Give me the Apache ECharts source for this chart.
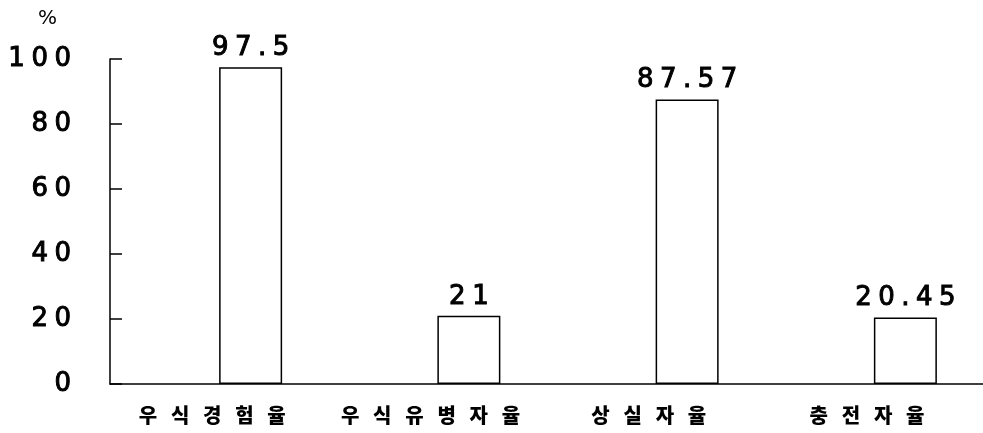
<!DOCTYPE html>
<html>
<head>
<meta charset="utf-8">
<script src="https://cdn.jsdelivr.net/npm/echarts@6/dist/echarts.min.js"></script>
<style>
html,body{margin:0;padding:0;background:#fff;}
#chart{width:983px;height:433px;}
</style>
</head>
<body>
<div id="chart"></div>
<script>
const categories = ['우식경험율', '우식유병자율', '상실자율', '충전자율'];
const values = [97.5, 21, 87.57, 20.45];
const yMin = 0, yMax = 100, yStep = 20;
const unitLabel = '%';

const DIGIT_GAP = '\u2005';
const HANGUL_GAP = '   ';
const spaced = (s, g) => String(s).split('').join(g);

const digitStyle = {
  color: '#000',
  fontFamily: 'DejaVu Sans',
  fontWeight: 'normal',
  fontSize: 26,
  textBorderColor: '#000',
  textBorderWidth: 1
};

const chart = echarts.init(document.getElementById('chart'), null, {renderer: 'canvas'});
chart.setOption({
  animation: false,
  backgroundColor: '#ffffff',
  title: {
    text: unitLabel,
    left: 33, top: 4,
    textStyle: {fontFamily: 'DejaVu Sans', fontSize: 20, fontWeight: 'normal', color: '#000'}
  },
  grid: {left: 110, top: 59, width: 880, height: 325, containLabel: false},
  xAxis: {
    type: 'category',
    data: categories,
    boundaryGap: true,
    axisLine: {lineStyle: {color: '#000', width: 1.5}},
    axisTick: {inside: true, length: 6, lineStyle: {color: '#000', width: 1.5}},
    axisLabel: {
      interval: 0,
      margin: 21,
      color: '#000',
      fontFamily: 'Noto Sans CJK KR',
      fontWeight: 900,
      fontSize: 20,
      formatter: v => spaced(v, HANGUL_GAP) + HANGUL_GAP
    },
    splitLine: {show: false}
  },
  yAxis: {
    type: 'value',
    min: yMin, max: yMax, interval: yStep,
    axisLine: {show: true, lineStyle: {color: '#000', width: 1.5}},
    axisTick: {show: true, inside: true, length: 12, lineStyle: {color: '#000', width: 1.5}},
    axisLabel: Object.assign({
      margin: 39,
      padding: [4, 0, 0, 0],
      formatter: v => spaced(v, DIGIT_GAP)
    }, digitStyle),
    splitLine: {show: false}
  },
  series: [
    {
      type: 'bar',
      data: categories.map(() => '-'),
      barWidth: 63,
      barGap: '0%'
    },
    {
      type: 'bar',
      data: values,
      barWidth: 63,
      barGap: '0%',
      itemStyle: {color: '#ffffff', borderColor: '#000', borderWidth: 1.5},
      label: Object.assign({
        show: true,
        position: 'top',
        distance: 6,
        formatter: p => spaced(p.value, DIGIT_GAP)
      }, digitStyle)
    }
  ]
});
</script>
</body>
</html>
